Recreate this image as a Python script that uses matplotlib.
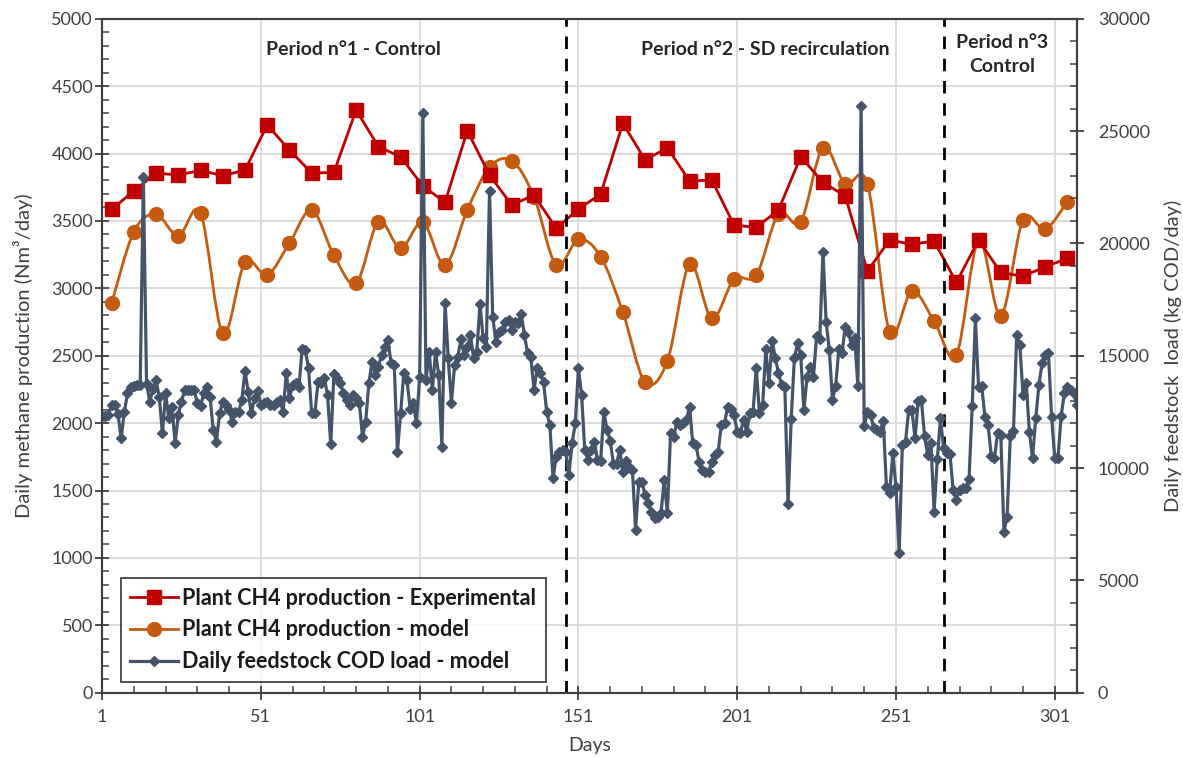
import numpy as np
import matplotlib
matplotlib.use("Agg")
import matplotlib.pyplot as plt
from matplotlib.path import Path
from matplotlib.patches import PathPatch
from matplotlib.lines import Line2D
from matplotlib.ticker import MultipleLocator

plt.rcParams['font.family'] = ['Lato', 'DejaVu Sans']

# weekly CH4 production (Nm3/day)
sample_days = [4, 11, 18, 25, 32, 39, 46, 53, 60, 67, 74, 81, 88, 95, 102,
               109, 116, 123, 130, 137, 144, 151, 158, 165, 172, 179, 186,
               193, 200, 207, 214, 221, 228, 235, 242, 249, 256, 263, 270,
               277, 284, 291, 298, 305]
ch4_experimental = [3586, 3722, 3855, 3840, 3875, 3835, 3877, 4211, 4026, 3855,
                    3860, 4323, 4051, 3976, 3759, 3638, 4169, 3840, 3618, 3692,
                    3445, 3588, 3699, 4224, 3952, 4043, 3796, 3803, 3469, 3452,
                    3581, 3976, 3786, 3685, 3128, 3358, 3326, 3351, 3044, 3358,
                    3118, 3089, 3160, 3222]
ch4_model = [2889, 3420, 3549, 3388, 3559, 2666, 3193, 3099, 3334, 3581,
             3245, 3037, 3494, 3297, 3490, 3173, 3581, 3898, 3947, 3680,
             3173, 3363, 3235, 2822, 2303, 2461, 3178, 2777, 3067, 3099,
             3551, 3494, 4043, 3774, 3774, 2678, 2980, 2757, 2505, 3358,
             2797, 3507, 3438, 3643]

# daily feedstock COD load (kg COD/day), day 1 onwards
feed_load = [
    12330, 12330, 12360, 12810, 12810, 12420, 11320, 12510, 13320, 13590,
    13650, 13690, 13710, 22940, 13740, 12960, 13500, 13920, 13170, 11540,
    13320, 12210, 12720, 11100, 12360, 12960, 13470, 13470, 13470, 13470,
    12880, 12760, 13320, 13620, 13180, 11690, 11170, 12430, 12950, 12800,
    12580, 12060, 12510, 12510, 13030, 14330, 13400, 12430, 13100, 13440,
    12800, 12880, 12950, 12800, 12800, 12950, 13030, 12510, 14240, 13100,
    13690, 13770, 13590, 15320, 15250, 14440, 12430, 12430, 13840, 13800,
    13990, 13250, 11050, 14180, 13990, 13800, 13320, 13030, 12800, 13250,
    13100, 12900, 11400, 12060, 13770, 14730, 14140, 14510, 15030, 15400,
    15700, 14660, 14590, 10730, 12430, 14210, 13920, 12650, 12880, 11990,
    14060, 25790, 13920, 15180, 13470, 15180, 14140, 10950, 17360, 14880,
    12880, 14590, 14960, 15730, 15030, 15400, 15920, 14880, 15180, 17300,
    15770, 15400, 22340, 16730, 15620, 16070, 16140, 16510, 16590, 16140,
    16510, 16470, 16850, 15920, 15100, 14960, 13470, 14440, 14240, 13840,
    12510, 11920, 9540, 10510, 10730, 10800, 10730, 9690, 11100, 11990,
    14440, 13250, 10800, 10360, 10800, 11170, 10360, 10330, 12510, 11690,
    11220, 10200, 10200, 10800, 9840, 10320, 10060, 9930, 7240, 9390,
    9390, 8800, 8430, 8060, 7760, 7840, 7980, 9470, 7980, 11540,
    11390, 12060, 11920, 11990, 12140, 12730, 11100, 11020, 10280, 9910,
    9840, 9840, 10280, 10580, 10730, 11920, 11990, 12730, 12650, 12360,
    11620, 11570, 12140, 11620, 12430, 12510, 14470, 12430, 12800, 15280,
    13770, 15670, 14880, 14240, 13690, 13590, 8380, 12170, 14880, 15550,
    15030, 12580, 14060, 14510, 14060, 15880, 15730, 19630, 16510, 15250,
    13030, 13650, 15320, 15100, 16290, 16070, 15470, 15770, 13650, 26110,
    11880, 12510, 12360, 11770, 11690, 11620, 12110, 9140, 8870, 10680,
    9170, 6230, 11020, 11170, 12580, 12580, 11320, 13000, 13030, 11420,
    10580, 11100, 8060, 10390, 12210, 10880, 10660, 10630, 9020, 8600,
    9020, 9100, 9100, 9500, 12760, 16660, 13620, 13650, 12280, 11920,
    10540, 10430, 11570, 11470, 7160, 7840, 11420, 11660, 15920, 15470,
    13250, 13800, 11620, 10430, 12210, 13690, 14660, 15030, 15140, 12280,
    10430, 10430, 12310, 13320, 13590, 13470, 13320, 12800,
]
feed_days = np.arange(1, len(feed_load) + 1)

period_breaks = [147, 266]

RED = '#C00000'
ORANGE = '#C55A11'
BLUE = '#44546A'
AXIS = '#404040'


def smooth_path(x, y):
    # Catmull-Rom curve through the points, as cubic Bezier segments
    x = np.asarray(x, float)
    y = np.asarray(y, float)
    px = np.concatenate([[x[0]], x, [x[-1]]])
    py = np.concatenate([[y[0]], y, [y[-1]]])
    verts = [(x[0], y[0])]
    codes = [Path.MOVETO]
    for i in range(len(x) - 1):
        c1 = (px[i + 1] + (px[i + 2] - px[i]) / 6, py[i + 1] + (py[i + 2] - py[i]) / 6)
        c2 = (px[i + 2] - (px[i + 3] - px[i + 1]) / 6, py[i + 2] - (py[i + 3] - py[i + 1]) / 6)
        verts += [c1, c2, (px[i + 2], py[i + 2])]
        codes += [Path.CURVE4] * 3
    return Path(verts, codes)


fig = plt.figure(figsize=(11.83, 7.57), dpi=100)
ax1 = fig.add_axes([0.0863, 0.0849, 0.8241, 0.8904])
ax2 = ax1.twinx()

ax1.set_xlim(1, 308)
ax1.set_ylim(0, 5000)
ax2.set_ylim(0, 30000)

ax1.grid(True, which='major', color='#d9d9d9', lw=1.3)
ax1.set_axisbelow(True)

# measured production
ax1.plot(sample_days, ch4_experimental, color=RED, lw=2, marker='s',
         markersize=10, zorder=4)

# model production, smoothed line
ax1.add_patch(PathPatch(smooth_path(sample_days, ch4_model), fill=False,
                        edgecolor=ORANGE, lw=2, zorder=3))
ax1.plot(sample_days, ch4_model, color=ORANGE, ls='none', marker='o',
         markersize=10, zorder=3)

# feedstock load on secondary axis
ax2.plot(feed_days, feed_load, color=BLUE, lw=2.3, marker='D',
         markersize=5, zorder=2)

for b in period_breaks:
    ax1.axvline(b, color='black', lw=2, ls=(0, (4.5, 3.5)), zorder=5)

txt = dict(ha='center', va='center', fontweight='bold', fontsize=14, color='#262626')
ax1.text(80, 4770, 'Period n°1 - Control', **txt)
ax1.text(210, 4770, 'Period n°2 - SD recirculation', **txt)
ax1.text(284.5, 4738, 'Period n°3\nControl', linespacing=1.5, **txt)

ax1.xaxis.set_major_locator(MultipleLocator(50, offset=1))
ax1.xaxis.set_minor_locator(MultipleLocator(10, offset=1))
ax1.yaxis.set_major_locator(MultipleLocator(500))
ax1.yaxis.set_minor_locator(MultipleLocator(100))
ax2.yaxis.set_major_locator(MultipleLocator(5000))
ax2.yaxis.set_minor_locator(MultipleLocator(1000))

for ax in (ax1, ax2):
    for sp in ax.spines.values():
        sp.set_color(AXIS)
        sp.set_linewidth(1.5)
    ax.tick_params(which='major', direction='inout', length=10, width=1.3,
                   color=AXIS, labelcolor=AXIS, labelsize=13)
    ax.tick_params(which='minor', direction='in', length=5, width=1.1, color=AXIS)
ax1.tick_params(axis='x', which='major', pad=7)
ax1.tick_params(axis='y', which='major', pad=1.5)
ax2.tick_params(axis='y', which='major', pad=10)

ax1.set_xlabel('Days', fontsize=14, color=AXIS, labelpad=8)
ax1.set_ylabel('Daily methane production (Nm³/day)', fontsize=14.5, color=AXIS, labelpad=13)
ax2.set_ylabel('Daily feedstock  load (kg COD/day)', fontsize=14.5, color=AXIS, labelpad=10)

handles = [
    Line2D([], [], color=RED, lw=2, marker='s', markersize=10),
    Line2D([], [], color=ORANGE, lw=2, marker='o', markersize=10),
    Line2D([], [], color=BLUE, lw=2.3, marker='D', markersize=5),
]
labels = ['Plant CH4 production - Experimental',
          'Plant CH4 production - model',
          'Daily feedstock COD load - model']
leg = ax1.legend(handles, labels, loc='lower left', bbox_to_anchor=(0.019, 0.016),
                 prop={'weight': 'bold', 'size': 15.5}, frameon=True, fancybox=False,
                 edgecolor='black', handlelength=2.2, handletextpad=0.2,
                 labelspacing=0.5, borderpad=0.45, borderaxespad=0)
leg.get_frame().set_linewidth(1.2)
leg.set_zorder(10)
for t in leg.get_texts():
    t.set_color('#1a1a1a')

fig.savefig('out.png', dpi=100)
